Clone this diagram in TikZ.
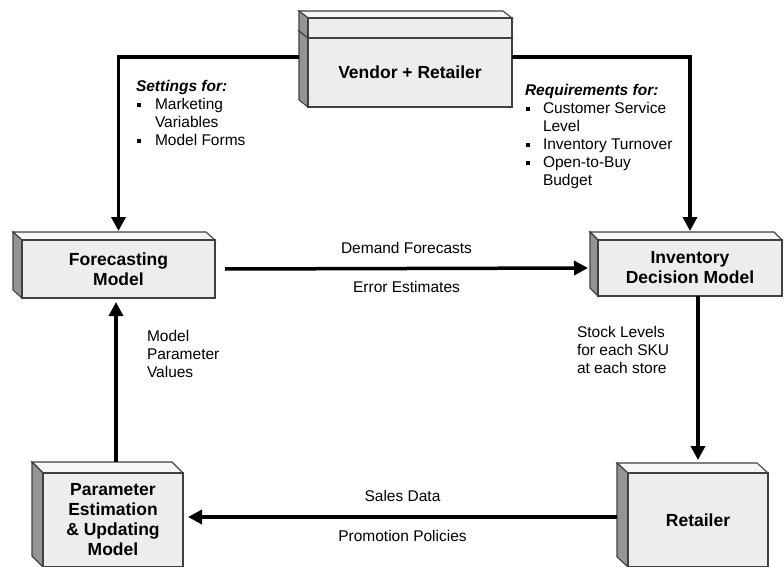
\documentclass[tikz,border=0pt]{standalone}
\usepackage{fontspec}
\setmainfont{Liberation Sans}
\usetikzlibrary{arrows.meta,backgrounds,calc}

\newcommand{\sqb}{\hspace{1pt}\rule[2.5pt]{4pt}{4pt}}

\begin{document}
\begin{tikzpicture}[
            x = 1pt, y = 1pt,
            every node/.style={inner sep=0pt, outer sep=0pt},
            box/.style={draw=black!75, line width=1.1pt, fill=black!7, align=center,
                        font=\fontsize{17.5}{20}\selectfont\bfseries},
            sideface/.style={draw=black!75, line width=1.1pt, fill=black!42},
            topface/.style={draw=black!75, line width=1.1pt, fill=black!3},
            note/.style={font=\fontsize{15.5}{18}\selectfont},
            flow/.style={line width=3.5pt, -{Triangle[length=14pt,width=14pt]}},
            ]
    \useasboundingbox (0,0) rectangle (784,566);
    % front faces of the boxes
    \node[box, minimum width=193, minimum height=58] (forecast) at (118.5,297) {Forecasting\\Model};
    \node[box, minimum width=184, minimum height=56] (inventory) at (690,298) {Inventory\\Decision Model};
    \node[box, minimum width=204, minimum height=69] (vendor) at (410,493.5) {Vendor + Retailer};
    \node[box, minimum width=204, minimum height=20, anchor=south] (lid) at (vendor.north) {};
    \node[box, minimum width=140, minimum height=94] (param) at (113,46) {Parameter\\Estimation\\\& Updating\\Model};
    \node[box, minimum width=140, minimum height=94] (retailer) at (698,46) {Retailer};
    % side and top faces
    \begin{pgfonlayer}{background}
        \foreach \n/\dx/\dy in {forecast/9/8, inventory/8/8, vendor/9/7, lid/9/7, param/11/11, retailer/11/10} {
            \filldraw[topface] (\n.north west) -- (\n.north east) -- ++(-\dx,\dy) -- ([shift={(-\dx,\dy)}]\n.north west) -- cycle;
            \filldraw[sideface] (\n.north west) -- (\n.south west) -- ++(-\dx,\dy) -- ([shift={(-\dx,\dy)}]\n.north west) -- cycle;
        }
    \end{pgfonlayer}
    % connectors
    \draw[flow] ($(vendor.north west)+(-9,-19)$) -| ([yshift=9]forecast.north);
    \draw[flow] ($(vendor.north east)+(0,-19)$) -| ([yshift=9]inventory.north);
    \draw[flow] ([xshift=10]forecast.east) -- node[midway, above=15pt, note] (demand) {Demand Forecasts}
                                         node[midway, below=13pt, note] (error) {Error Estimates} ([xshift=-10]inventory.west);
    \draw[flow] (inventory.south -| retailer.north) -- ([yshift=13]retailer.north);
    \draw[flow] ([shift={(-11,3)}]retailer.west) -- node[midway, above=15pt, note] (sales) {Sales Data}
                                         node[midway, below=13pt, note] (promo) {Promotion Policies} ([shift={(5,3)}]param.east);
    \draw[flow] ([shift={(3,11)}]param.north) -- ([shift={(-2.5,-4)}]forecast.south);
    % notes
    \node[note, anchor=north west] (settings) at (136,486.6) {\begin{tabular}{@{}l@{\hspace{14pt}}l@{}}
        \multicolumn{2}{@{}l@{}}{\textbf{\textit{Settings for:}}}\\
        \sqb & Marketing\\
             & Variables\\
        \sqb & Model Forms
    \end{tabular}};
    \node[note, anchor=north west] (reqs) at (525,482.6) {\begin{tabular}{@{}l@{\hspace{13pt}}l@{}}
        \multicolumn{2}{@{}l@{}}{\textbf{\textit{Requirements for:}}}\\
        \sqb & Customer Service\\
             & Level\\
        \sqb & Inventory Turnover\\
        \sqb & Open-to-Buy\\
             & Budget
    \end{tabular}};
    \node[note, anchor=north west] (mpv) at (147,237.6) {\begin{tabular}{@{}l@{}}Model\\Parameter\\Values\end{tabular}};
    \node[note, anchor=north west] (stock) at (577,241.6) {\begin{tabular}{@{}l@{}}Stock Levels\\for each SKU\\at each store\end{tabular}};
\end{tikzpicture}
\end{document}
